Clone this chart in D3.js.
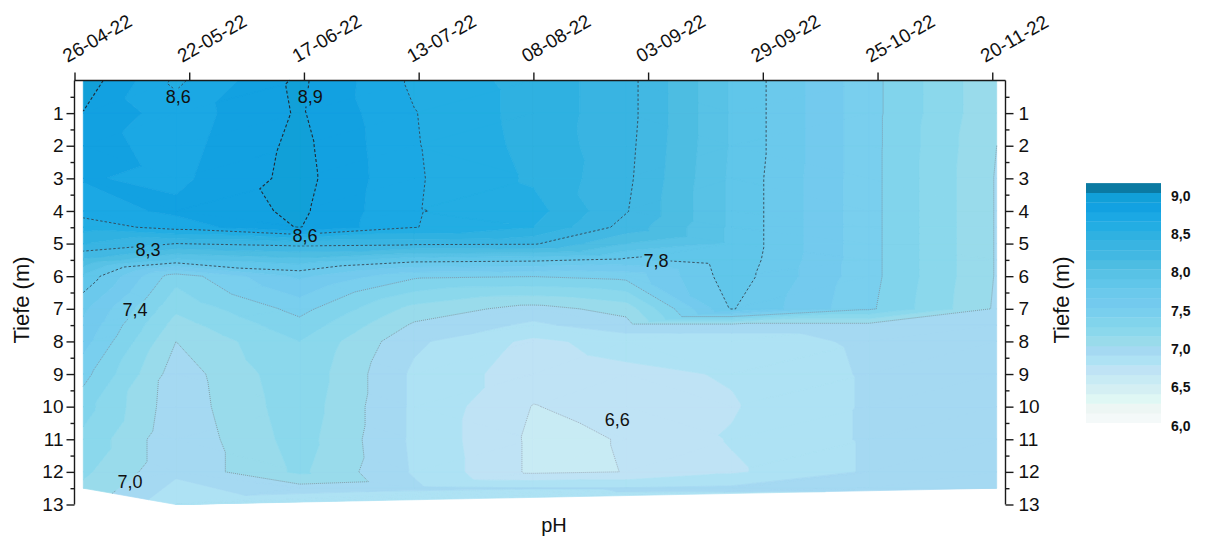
<!DOCTYPE html>
<html>
<head>
<meta charset="utf-8">
<script src="https://cdn.jsdelivr.net/npm/d3@7"></script>
<style>
  body { margin: 0; background: #fff; }
  svg { display: block; }
  text { font-family: Arial, "Liberation Sans", sans-serif; fill: #111; }
</style>
</head>
<body>
<svg id="chart" width="1208" height="538"></svg>
<script>
// ---------------- data ----------------
const sampleDates = ["2022-04-28","2022-05-19","2022-06-16","2022-07-12","2022-08-08","2022-08-29","2022-09-22","2022-10-23","2022-11-21"];
const depths = [0, 1, 2, 3, 4, 4.5, 5, 5.5, 6, 7, 7.5, 8, 9, 10, 11, 12];
const bottomDepths = [12.5, 13, 12.5, 12.5, 12.5, 12.5, 12.5, 12.5, 12.5];
// pH per profile: one value per depth above, last value at bottom depth
const ph_28_04 = [8.95, 8.87, 8.80, 8.76, 8.68, 8.55, 8.38, 8.10, 7.85, 7.65, 7.60, 7.55, 7.42, 7.30, 7.22, 7.15, 7.10];
const ph_19_05 = [8.60, 8.68, 8.70, 8.72, 8.78, 8.68, 8.25, 7.85, 7.30, 7.15, 7.07, 7.00, 6.93, 6.92, 6.90, 6.90, 6.78];
const ph_16_06 = [8.90, 8.89, 8.91, 8.92, 8.90, 8.88, 8.30, 7.95, 7.65, 7.42, 7.33, 7.25, 7.22, 7.20, 7.18, 7.15, 6.95];
const ph_12_07 = [8.60, 8.63, 8.635, 8.64, 8.635, 8.63, 8.28, 7.80, 7.40, 7.08, 6.98, 6.90, 6.85, 6.85, 6.85, 6.86, 6.90];
const ph_08_08 = [8.45, 8.45, 8.46, 8.48, 8.55, 8.50, 8.27, 7.78, 7.38, 6.95, 6.85, 6.72, 6.68, 6.62, 6.60, 6.60, 6.88];
const ph_29_08 = [8.30, 8.30, 8.29, 8.28, 8.26, 8.20, 8.00, 7.72, 7.42, 7.05, 6.95, 6.80, 6.72, 6.68, 6.63, 6.627, 6.88];
const ph_22_09 = [7.86, 7.86, 7.86, 7.85, 7.85, 7.85, 7.85, 7.84, 7.82, 7.76, 6.95, 6.80, 6.76, 6.74, 6.76, 6.73, 6.90];
const ph_23_10 = [7.42, 7.42, 7.42, 7.42, 7.42, 7.42, 7.42, 7.42, 7.42, 7.40, 6.95, 6.90, 6.89, 6.89, 6.89, 6.89, 6.90];
const ph_21_11 = [7.02, 7.02, 7.00, 6.99, 6.99, 6.99, 6.99, 6.99, 6.99, 6.98, 6.94, 6.93, 6.92, 6.92, 6.92, 6.92, 6.90];
const profiles = [ph_28_04, ph_19_05, ph_16_06, ph_12_07, ph_08_08, ph_29_08, ph_22_09, ph_23_10, ph_21_11];

const tickDates = ["26-04-22","22-05-22","17-06-22","13-07-22","08-08-22","03-09-22","29-09-22","25-10-22","20-11-22"];
const depthTicks = [1,2,3,4,5,6,7,8,9,10,11,12,13];
const legendTicks = [6.0, 6.5, 7.0, 7.5, 8.0, 8.5, 9.0];
const levelMin = 6.0, levelStep = 0.125, levelCount = 24;   // 24 bands 6..9, plus one band above 9
const bandColors = [
  "#f4f9f9","#edf6f4","#dff7f4","#d4eff3","#c8ebf4","#bfe3f5","#aee2f4","#a5d9f2",
  "#99dbeb","#8bd8ec","#81d4ec","#79cfee","#73caee","#6bc9ec","#60c6ea","#58c2e6",
  "#4dbde2","#42b8e3","#39b4e2","#2fb1e1","#23ade3","#1ba8e4","#12a1e1","#11a0d8","#0b7aa2"
];
const contourLevels = [8.875, 8.625, 8.25, 7.75, 7.375, 7.0, 6.625];
const contourLabels = [
  { text: "8,6", date: "2022-05-19T12:00", depth: 0.52 },
  { text: "8,9", date: "2022-06-18T10:00", depth: 0.52 },
  { text: "8,6", date: "2022-06-17T06:00", depth: 4.78 },
  { text: "8,3", date: "2022-05-12T16:00", depth: 5.2 },
  { text: "7,8", date: "2022-09-04T19:00", depth: 5.52 },
  { text: "7,4", date: "2022-05-09T17:00", depth: 7.03 },
  { text: "7,0", date: "2022-05-08T14:00", depth: 12.31 },
  { text: "6,6", date: "2022-08-27T00:00", depth: 10.41 }
];

// ---------------- scales ----------------
const svg = d3.select("#chart");
const parseDay = d3.timeParse("%Y-%m-%d");
const parseDT = d3.timeParse("%Y-%m-%dT%H:%M");
const parseTick = d3.timeParse("%d-%m-%y");
const x = d3.scaleTime().domain([parseTick("26-04-22"), parseDay("2022-11-23")]).range([74.5, 1005.5]);
const y = d3.scaleLinear().domain([0, 13]).range([80.5, 504.5]);

// ---------------- points & triangulation ----------------
const px = [], py = [], pv = [];
sampleDates.forEach((ds, i) => {
  const xd = x(parseDay(ds));
  const vals = profiles[i];
  depths.forEach((d, j) => { px.push(xd); py.push(y(d)); pv.push(vals[j]); });
  px.push(xd); py.push(y(bottomDepths[i])); pv.push(vals[vals.length - 1]);
});
const delaunay = d3.Delaunay.from(px.map((v, i) => [px[i], py[i]]));
const T = delaunay.triangles;

function clip(poly, t, keepAbove) {
  const out = [];
  for (let i = 0; i < poly.length; i++) {
    const a = poly[i], b = poly[(i + 1) % poly.length];
    const ina = keepAbove ? a.v >= t : a.v <= t;
    const inb = keepAbove ? b.v >= t : b.v <= t;
    if (ina) out.push(a);
    if (ina !== inb) {
      const f = (t - a.v) / (b.v - a.v);
      out.push({ x: a.x + f * (b.x - a.x), y: a.y + f * (b.y - a.y), v: t });
    }
  }
  return out;
}
const bandIndex = v => Math.max(0, Math.min(levelCount, Math.floor((v - levelMin) / levelStep)));
const bandPaths = bandColors.map(() => d3.path());
for (let t = 0; t < T.length; t += 3) {
  const tri = [T[t], T[t + 1], T[t + 2]].map(k => ({ x: px[k], y: py[k], v: pv[k] }));
  const vs = tri.map(p => p.v);
  const k0 = bandIndex(d3.min(vs)), k1 = bandIndex(d3.max(vs));
  for (let k = k0; k <= k1; k++) {
    let p = tri;
    if (k > 0) p = clip(p, levelMin + k * levelStep, true);
    if (k < levelCount && p.length) p = clip(p, levelMin + (k + 1) * levelStep, false);
    if (p.length >= 3) {
      const path = bandPaths[k];
      path.moveTo(p[0].x, p[0].y);
      for (let m = 1; m < p.length; m++) path.lineTo(p[m].x, p[m].y);
      path.closePath();
    }
  }
}
const gFill = svg.append("g");
bandPaths.forEach((p, k) => {
  const s = p.toString();
  if (s) gFill.append("path").attr("d", s).attr("fill", bandColors[k])
    .attr("stroke", bandColors[k]).attr("stroke-width", 0.7).attr("stroke-linejoin", "round");
});

// ---------------- contour lines ----------------
function contourPolylines(L) {
  const segs = [], pos = new Map();
  for (let t = 0; t < T.length; t += 3) {
    const idx = [T[t], T[t + 1], T[t + 2]];
    const keys = [];
    for (let e = 0; e < 3; e++) {
      const a = idx[e], b = idx[(e + 1) % 3];
      if ((pv[a] >= L) !== (pv[b] >= L)) {
        const k = a < b ? a + "_" + b : b + "_" + a;
        if (!pos.has(k)) {
          const f = (L - pv[a]) / (pv[b] - pv[a]);
          pos.set(k, [px[a] + f * (px[b] - px[a]), py[a] + f * (py[b] - py[a])]);
        }
        keys.push(k);
      }
    }
    if (keys.length === 2) segs.push(keys);
  }
  const adj = new Map();
  segs.forEach((s, i) => s.forEach(k => { if (!adj.has(k)) adj.set(k, []); adj.get(k).push(i); }));
  const used = new Array(segs.length).fill(false);
  const lines = [];
  function walk(seg, key) {
    const pts = [pos.get(key)];
    while (seg !== undefined && !used[seg]) {
      used[seg] = true;
      const other = segs[seg][0] === key ? segs[seg][1] : segs[seg][0];
      pts.push(pos.get(other));
      key = other;
      seg = adj.get(key).find(s => !used[s]);
    }
    return pts;
  }
  adj.forEach((list, k) => { if (list.length === 1 && !used[list[0]]) lines.push(walk(list[0], k)); });
  segs.forEach((s, i) => { if (!used[i]) lines.push(walk(i, s[0])); });
  return lines;
}
const lineStyle = L => {
  if (L >= 8.8) return { stroke: "#1f2b38", dash: "3,2", w: 1.1 };
  if (L >= 7.7) return { stroke: "#33404c", dash: "2.5,2", w: 0.85 };
  if (L >= 6.9) return { stroke: "#7f8e9a", dash: "1,1", w: 0.8 };
  return { stroke: "#9aa7b0", dash: "1,1", w: 0.8 };
};

// mask for label gaps
const defs = svg.append("defs");
const mask = defs.append("mask").attr("id", "lblmask").attr("maskUnits", "userSpaceOnUse")
  .attr("x", 0).attr("y", 0).attr("width", 1208).attr("height", 538);
mask.append("rect").attr("width", 1208).attr("height", 538).attr("fill", "#fff");

const gLines = svg.append("g").attr("mask", "url(#lblmask)");
const lineGen = d3.line();
contourLevels.forEach(L => {
  const st = lineStyle(L);
  contourPolylines(L).forEach(pts => {
    gLines.append("path").attr("d", lineGen(pts)).attr("fill", "none")
      .attr("stroke", st.stroke).attr("stroke-width", st.w).attr("stroke-dasharray", st.dash);
  });
});

const gLbl = svg.append("g");
contourLabels.forEach(l => {
  const t = gLbl.append("text").attr("x", x(parseDT(l.date))).attr("y", y(l.depth))
    .attr("text-anchor", "middle").attr("dominant-baseline", "central")
    .attr("font-size", 18).text(l.text);
  const b = t.node().getBBox();
  mask.append("rect").attr("x", b.x - 2).attr("y", b.y + 1).attr("width", b.width + 4)
    .attr("height", b.height - 2).attr("fill", "#000");
});

// ---------------- axes ----------------
const axisColor = "#1a1a1a";
const topAxis = d3.axisTop(x).tickValues(tickDates.map(parseTick)).tickSize(8).tickSizeOuter(0).tickFormat(() => "");
const gTop = svg.append("g").attr("transform", "translate(0,80.5)").call(topAxis);
gTop.select(".domain").attr("d", `M74.5,0H1005.5`);
tickDates.forEach(s => {
  svg.append("text").attr("transform", `translate(${x(parseTick(s)) - 7},63) rotate(-30)`)
    .attr("font-size", 19).text(s);
});

const leftAxis = d3.axisLeft(y).tickValues(depthTicks).tickSize(8).tickPadding(3).tickSizeOuter(0).tickFormat(d3.format("d"));
const minorVals = d3.range(0.5, 13, 1);
const gLeft = svg.append("g").attr("transform", "translate(74.5,0)").call(leftAxis);
gLeft.select(".domain").attr("d", "M0,80.5V504.5");
svg.append("g").attr("transform", "translate(74.5,0)")
  .call(d3.axisLeft(y).tickValues(minorVals).tickSize(4).tickFormat(() => "").tickSizeOuter(0))
  .select(".domain").remove();

const rightAxis = d3.axisRight(y).tickValues(depthTicks).tickSize(8).tickPadding(5).tickSizeOuter(0).tickFormat(d3.format("d"));
const gRight = svg.append("g").attr("transform", "translate(1005.5,0)").call(rightAxis);
gRight.select(".domain").attr("d", "M0,80.5V504.5");
svg.append("g").attr("transform", "translate(1005.5,0)")
  .call(d3.axisRight(y).tickValues(minorVals).tickSize(4).tickFormat(() => "").tickSizeOuter(0))
  .select(".domain").remove();

svg.selectAll(".tick text").attr("font-size", 19).attr("fill", "#111")
  .style("font-family", 'Arial, "Liberation Sans", sans-serif');
svg.selectAll(".tick line, .domain").attr("stroke", axisColor).attr("stroke-width", 1.4);

svg.append("text").attr("transform", "translate(29,300) rotate(-90)").attr("text-anchor", "middle")
  .attr("font-size", 22).text("Tiefe (m)");
svg.append("text").attr("transform", "translate(1069,300) rotate(-90)").attr("text-anchor", "middle")
  .attr("font-size", 22).text("Tiefe (m)");
svg.append("text").attr("x", 554).attr("y", 532).attr("text-anchor", "middle")
  .attr("font-size", 20).text("pH");

// ---------------- legend ----------------
const ly = d3.scaleLinear().domain([6, 9]).range([422.7, 192.7]);
const gLeg = svg.append("g");
bandColors.forEach((c, k) => {
  const lo = levelMin + k * levelStep, hi = lo + levelStep;
  gLeg.append("rect").attr("x", 1086).attr("width", 75)
    .attr("y", ly(hi)).attr("height", ly(lo) - ly(hi) + 0.3).attr("fill", c);
});
legendTicks.forEach(v => {
  gLeg.append("text").attr("x", 1171).attr("y", ly(v) + 3).attr("dominant-baseline", "central")
    .attr("font-size", 14).attr("font-weight", "bold").text(d3.format(".1f")(v).replace(".", ","));
});
</script>
</body>
</html>
